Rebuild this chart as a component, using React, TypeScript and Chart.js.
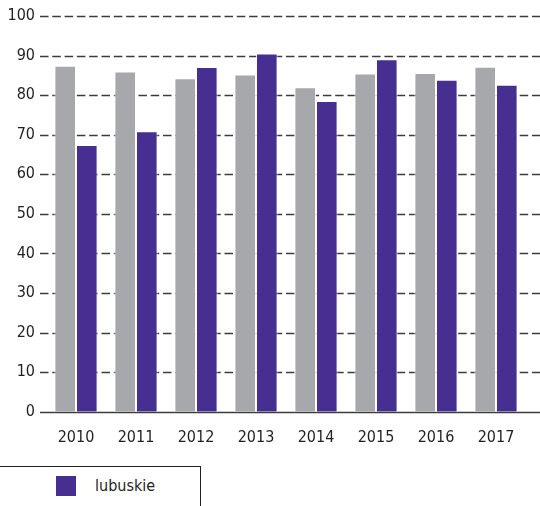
import React, { useEffect, useRef } from "react";
import { Chart, registerables } from "chart.js";

Chart.register(...registerables);

const categories = ["2010", "2011", "2012", "2013", "2014", "2015", "2016", "2017"];
const polskaValues = [87.4, 86.0, 84.3, 85.2, 82.0, 85.5, 85.6, 87.2];
const lubuskieValues = [67.4, 70.9, 87.1, 90.5, 78.5, 89.1, 83.9, 82.6];
const yTicks = [0, 10, 20, 30, 40, 50, 60, 70, 80, 90, 100];
const legendLabel = "lubuskie";

const FONT = "'Liberation Sans Narrow', 'DejaVu Sans Condensed', 'Arial Narrow', sans-serif";

const gridPlugin = {
  id: "extGrid",
  beforeDatasetsDraw(chart: any) {
    const { ctx, chartArea, scales } = chart;
    const y = scales.y;
    ctx.save();
    ctx.strokeStyle = "#3c3c3c";
    ctx.lineWidth = 1.3;
    yTicks.forEach((v) => {
      const py = Math.round(y.getPixelForValue(v)) + 0.5;
      ctx.beginPath();
      ctx.setLineDash(v === 0 ? [] : [8.5, 3.8]);
      ctx.moveTo(chartArea.left - 6, py);
      ctx.lineTo(chart.width, py);
      ctx.stroke();
    });
    ctx.restore();
  },
};

export default function App() {
  const canvasRef = useRef<HTMLCanvasElement | null>(null);

  useEffect(() => {
    if (!canvasRef.current) return;
    const chart = new Chart(canvasRef.current, {
      type: "bar",
      data: {
        labels: categories,
        datasets: [
          {
            label: "Polska",
            data: polskaValues,
            backgroundColor: "#a7a8ab",
            borderColor: "rgba(255,255,255,0.85)",
            borderWidth: 1,
            categoryPercentage: 0.72,
            barPercentage: 1.0,
          },
          {
            label: legendLabel,
            data: lubuskieValues,
            backgroundColor: "#472e91",
            borderColor: "rgba(255,255,255,0.85)",
            borderWidth: 1,
            categoryPercentage: 0.72,
            barPercentage: 1.0,
          },
        ],
      },
      options: {
        animation: false,
        responsive: false,
        maintainAspectRatio: false,
        layout: { padding: { top: 16, right: 14, left: 0, bottom: 0 } },
        plugins: {
          legend: { display: false },
          tooltip: { enabled: false },
        },
        scales: {
          x: {
            grid: { display: false, drawTicks: false },
            border: { display: false },
            ticks: {
              color: "#231f20",
              font: { family: FONT, size: 16 },
              padding: 16,
            },
          },
          y: {
            min: 0,
            max: 100,
            afterFit: (scale: any) => {
              scale.width = 46;
              scale.paddingTop = 0;
              scale.paddingBottom = 0;
            },
            grid: { display: false, drawTicks: false },
            border: { display: false },
            ticks: {
              stepSize: 10,
              color: "#231f20",
              font: { family: FONT, size: 16 },
              padding: 11,
            },
          },
        },
      },
      plugins: [gridPlugin],
    });
    return () => chart.destroy();
  }, []);

  return (
    <div style={{ position: "fixed", left: 0, top: 0, width: 540, height: 506, background: "#fff", overflow: "hidden" }}>
      <canvas ref={canvasRef} width={540} height={463} style={{ position: "absolute", left: 0, top: 0, width: 540, height: 463 }} />
      <div
        style={{
          position: "absolute",
          left: -1,
          top: 466,
          width: 202,
          height: 60,
          borderTop: "1px solid #231f20",
          borderRight: "1px solid #231f20",
          boxSizing: "border-box",
        }}
      >
        <div style={{ position: "absolute", left: 57, top: 9, width: 20, height: 20, background: "#472e91" }} />
        <div
          style={{
            position: "absolute",
            left: 96,
            top: 9,
            fontFamily: FONT,
            fontSize: 16,
            lineHeight: "20px",
            color: "#231f20",
          }}
        >
          {legendLabel}
        </div>
      </div>
    </div>
  );
}
